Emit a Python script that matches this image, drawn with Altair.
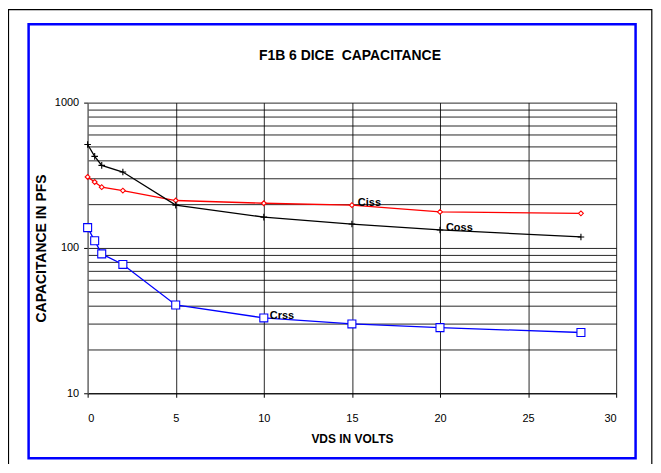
import altair as alt
import pandas as pd

# ---- data ----
vds = [0, 0.4, 0.8, 2, 5, 10, 15, 20, 28]
ciss = [308, 284, 262, 248, 212, 203, 197, 177, 173]
coss = [515, 427, 370, 333, 197, 163, 146, 133, 119]
crss = [138, 112, 91, 77, 40.5, 33, 30, 28.3, 26.2]

series_names = ["Ciss", "Coss", "Crss"]
series_colors = ["#FF0000", "#000000", "#0000FF"]
label_at_vds = [15, 20, 10]  # where each series name is written

x_ticks = [0, 5, 10, 15, 20, 25, 30]
y_grid = [10, 20, 30, 40, 50, 60, 70, 80, 90,
          100, 200, 300, 400, 500, 600, 700, 800, 900, 1000]

chart_title = "F1B 6 DICE\u00a0 CAPACITANCE"

rows = []
for name, vals in zip(series_names, [ciss, coss, crss]):
    for v, c in zip(vds, vals):
        rows.append({"series": name, "vds": v, "cap": c})
df = pd.DataFrame(rows)

lab_rows = []
for name, xv in zip(series_names, label_at_vds):
    r = df[(df.series == name) & (df.vds == xv)].iloc[0]
    lab_rows.append({"series": name, "vds": xv, "cap": r.cap})
labels = pd.DataFrame(lab_rows)

FONT = "Liberation Sans"
W, H = 531, 292

xscale = alt.Scale(domain=[0, 30], nice=False, zero=False)
yscale = alt.Scale(type="log", domain=[10, 1000], nice=False)
color_scale = alt.Scale(domain=series_names, range=series_colors)
shape_scale = alt.Scale(domain=series_names,
                        range=["diamond", "M-1,0H1M0,-1V1", "square"])

xaxis = alt.Axis(values=x_ticks, grid=True, gridColor="#000000", gridOpacity=0.85,
                 domainColor="#000000", tickColor="#000000", tickSize=4,
                 labelFont=FONT, labelFontSize=11, labelColor="#000000", labelPadding=15,
                 title="VDS IN VOLTS", titleFont=FONT, titleFontSize=12,
                 titleFontWeight="bold", titleColor="#000000", titlePadding=10)
yaxis = alt.Axis(values=y_grid, grid=True, gridColor="#000000", gridOpacity=0.85,
                 domainColor="#808080", tickColor="#000000", tickSize=4, format="d",
                 tickOpacity={"condition": {"test": "datum.value==10||datum.value==100||datum.value==1000",
                                            "value": 1}, "value": 0},
                 labelExpr="(datum.value==10||datum.value==100||datum.value==1000) ? datum.label : ''",
                 labelFont=FONT, labelFontSize=11, labelColor="#000000", labelPadding=5,
                 title="CAPACITANCE IN PFS", titleFont=FONT, titleFontSize=14,
                 titleFontWeight="bold", titleColor="#000000", titlePadding=6)

base = alt.Chart(df)

lines = base.mark_line(strokeWidth=1.3, clip=False).encode(
    x=alt.X("vds:Q", scale=xscale, axis=xaxis),
    y=alt.Y("cap:Q", scale=yscale, axis=yaxis),
    color=alt.Color("series:N", scale=color_scale, legend=None),
    detail="series:N",
)

points = base.mark_point(filled=False, fill="white", fillOpacity=1, strokeWidth=1.1,
                         opacity=1).encode(
    x="vds:Q",
    y="cap:Q",
    stroke=alt.Stroke("series:N", scale=color_scale, legend=None),
    shape=alt.Shape("series:N", scale=shape_scale, legend=None),
    size=alt.Size("series:N", scale=alt.Scale(domain=series_names, range=[24, 64, 32]),
                  legend=None),
)

texts = alt.Chart(labels).mark_text(align="left", baseline="middle", dx=6, dy=-2,
                                    font=FONT, fontSize=11, fontWeight="bold",
                                    color="#000000").encode(
    x="vds:Q", y="cap:Q", text="series:N")

one = pd.DataFrame({"k": [0]})
blue_frame = alt.Chart(one).mark_rect(fill=None, stroke="#0000FF", strokeWidth=2.5,
                                      clip=False).encode(
    x=alt.value(-59.3), x2=alt.value(550.5), y=alt.value(-78.7), y2=alt.value(357.3))
black_frame = alt.Chart(one).mark_rect(fill=None, stroke="#000000", strokeWidth=1.2,
                                       clip=False).encode(
    x=alt.value(-79.5), x2=alt.value(566.8), y=alt.value(-93.4), y2=alt.value(420))

title_mark = alt.Chart(pd.DataFrame({"t": [chart_title]})).mark_text(
    align="center", baseline="alphabetic", font=FONT, fontSize=14, fontWeight="bold",
    color="#000000", clip=False).encode(
    x=alt.value(W / 2 - 2), y=alt.value(-43), text="t:N")

chart = alt.layer(black_frame, blue_frame, lines, points, texts, title_mark).properties(
    width=W, height=H,
    autosize=alt.AutoSizeParams(type="none"),
    padding={"left": 80, "top": 94, "right": 37, "bottom": 70},
    background="white",
).configure_view(stroke=None)

chart.save("out.html", embed_options={"renderer": "svg", "actions": False})
